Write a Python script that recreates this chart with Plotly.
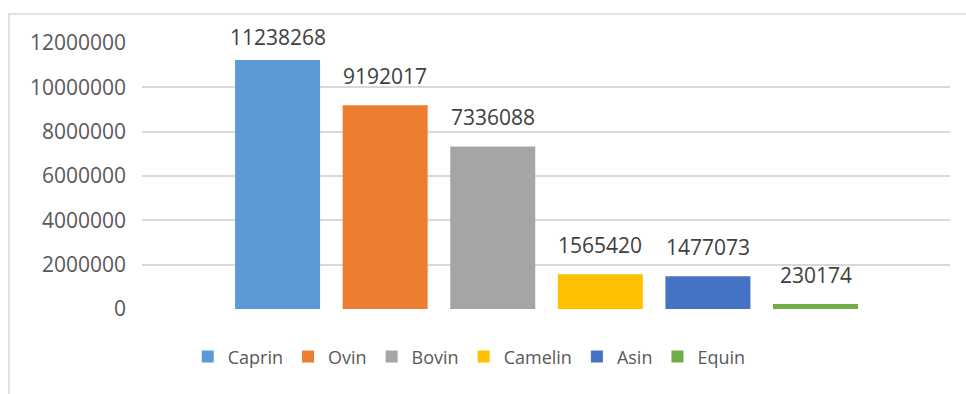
import plotly.graph_objects as go

categories = ["Caprin", "Ovin", "Bovin", "Camelin", "Asin", "Equin"]
values = [11238268, 9192017, 7336088, 1565420, 1477073, 230174]
colors = ["#5B9BD5", "#ED7D31", "#A5A5A5", "#FFC000", "#4472C4", "#70AD47"]
y_ticks = [0, 2000000, 4000000, 6000000, 8000000, 10000000, 12000000]

W, H = 966, 394
ML, MR, MT, MB = 142, 16, 43, 85
plot_h = H - MT - MB
y_max = 12000000

fig = go.Figure()
for cat, val, col in zip(categories, values, colors):
    fig.add_trace(go.Bar(
        x=[cat], y=[val], name=cat, marker=dict(color=col, line=dict(width=0)),
        width=0.79, hoverinfo="skip",
    ))

# data labels (Excel-like: placed above bar, clamped inside the chart area)
label_gap = 29
min_center_px = 36.5
for cat, val in zip(categories, values):
    bar_top_px = MT + plot_h * (1 - val / y_max)
    center_px = bar_top_px - label_gap
    shift = label_gap if center_px >= min_center_px else bar_top_px - min_center_px
    fig.add_annotation(
        x=cat, y=val, text=f"{val}", showarrow=False, yanchor="middle",
        yshift=shift, font=dict(family="Open Sans", size=21, color="#404040"),
    )

# chart border (partially cropped in the reference)
fig.add_shape(
    type="rect", xref="paper", yref="paper",
    x0=(9 - ML) / (W - ML - MR), x1=1.2,
    y0=-0.5, y1=(H - MB - 14) / plot_h,
    line=dict(color="#D9D9D9", width=1.5), layer="below",
)

fig.update_layout(
    width=W, height=H,
    margin=dict(l=ML, r=MR, t=MT, b=MB),
    paper_bgcolor="white", plot_bgcolor="white",
    barmode="overlay",
    showlegend=True,
    legend=dict(
        orientation="h", x=0.405, xanchor="center", y=-0.18, yanchor="middle",
        font=dict(family="Open Sans", size=18, color="#595959"),
        itemwidth=30, traceorder="normal",
    ),
    xaxis=dict(
        type="category", categoryorder="array", categoryarray=categories,
        range=[-1.26, 6.25], showticklabels=False, showgrid=False,
        zeroline=False, showline=False, fixedrange=True,
    ),
    yaxis=dict(
        range=[0, y_max], tickvals=y_ticks, ticktext=[str(v) for v in y_ticks],
        showgrid=True, gridcolor="#D9D9D9", gridwidth=2, zeroline=False,
        showline=False, ticks="", ticklabelstandoff=15,
        tickfont=dict(family="Open Sans", size=21, color="#595959"),
        fixedrange=True,
    ),
)

fig.write_html("out.html", config={"displayModeBar": False})
